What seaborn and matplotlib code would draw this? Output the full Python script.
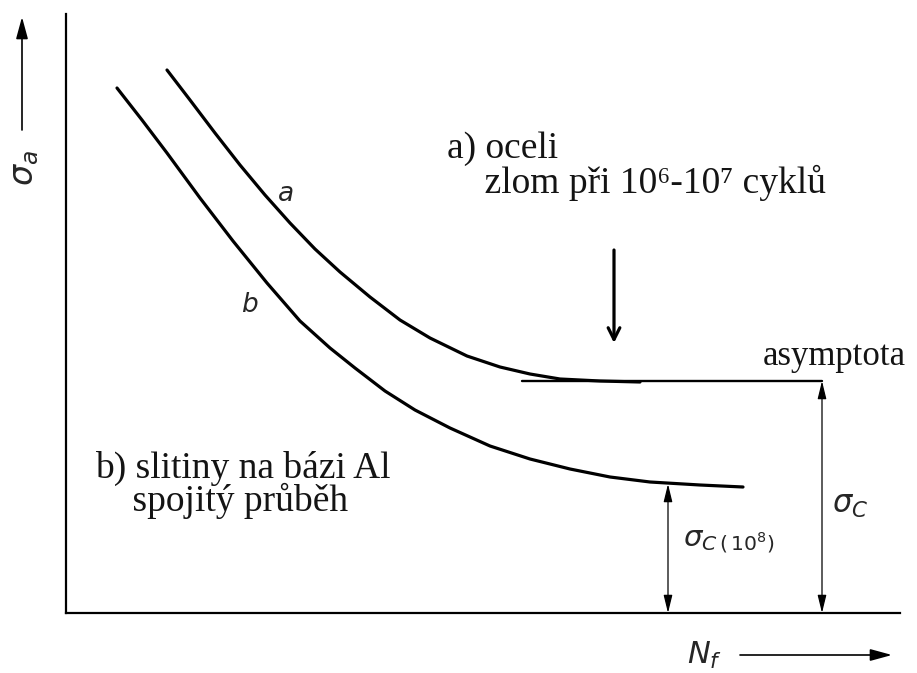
import matplotlib
matplotlib.use("Agg")
import matplotlib.pyplot as plt
import seaborn as sns
import pandas as pd

# Schematic Woehler (S-N) curves, arbitrary units: x ~ log N_f, y ~ stress amplitude
steel_n = [101, 124, 149, 174, 199, 224, 249, 274, 304, 334, 364, 401, 434,
           464, 494, 534, 574]
steel_s = [543, 513, 480, 448, 418, 390, 364, 341, 316, 293, 275, 257, 246,
           239, 234, 232, 231]

alloy_n = [51, 76, 101, 134, 167, 201, 234, 264, 289, 319, 349, 384, 424,
           464, 504, 544, 584, 634, 677]
alloy_s = [525, 493, 460, 415, 372, 330, 292, 265, 245, 222, 203, 185, 167,
           154, 144, 136, 131, 128, 126]

# horizontal asymptote of the steel curve (fatigue limit)
asym_n = [456, 756]
asym_s = [232, 232]

# endurance strength of the Al alloy at 10^8 cycles
alloy_limit_n = 602
alloy_limit_s = 129

x_max, y_max = 834, 599

sns.set_theme(style="white")
plt.rcParams["font.family"] = ["Liberation Serif", "DejaVu Serif"]
plt.rcParams["mathtext.fontset"] = "dejavusans"

fig = plt.figure(figsize=(9.17, 6.73), dpi=100)
ax = fig.add_axes([66 / 917, 60 / 673, 834 / 917, 599 / 673])

curves = pd.concat([
    pd.DataFrame({"N": steel_n, "S": steel_s, "mat": "a"}),
    pd.DataFrame({"N": alloy_n, "S": alloy_s, "mat": "b"}),
])
sns.lineplot(data=curves, x="N", y="S", units="mat", estimator=None, sort=False,
             color="black", linewidth=2.3, ax=ax, legend=False,
             solid_capstyle="round", solid_joinstyle="round")
sns.lineplot(x=asym_n, y=asym_s, color="black", linewidth=1.7, ax=ax,
             estimator=None, sort=False)

ax.set_xlim(0, x_max)
ax.set_ylim(0, y_max)
ax.set_xticks([])
ax.set_yticks([])
ax.set_xlabel("")
ax.set_ylabel("")
for side in ("top", "right"):
    ax.spines[side].set_visible(False)
for side in ("left", "bottom"):
    ax.spines[side].set_color("black")
    ax.spines[side].set_linewidth(1.6)

thin = dict(arrowstyle="<|-|>,head_length=0.9,head_width=0.22", color="black",
            lw=0.9, shrinkA=0, shrinkB=0)
# sigma_C dimension arrow
ax.annotate("", xy=(asym_n[1], 0), xytext=(asym_n[1], asym_s[1]),
            arrowprops=thin, annotation_clip=False)
# sigma_C(10^8) dimension arrow
ax.annotate("", xy=(alloy_limit_n, 0), xytext=(alloy_limit_n, alloy_limit_s),
            arrowprops=thin, annotation_clip=False)

# arrow pointing to the knee of the steel curve
ax.annotate("", xy=(548, 270), xytext=(548, 363),
            arrowprops=dict(arrowstyle="->,head_length=0.7,head_width=0.35",
                            color="black", lw=2.3, shrinkA=0, shrinkB=0))

# axis direction arrows
axis_arrow = dict(arrowstyle="-|>,head_length=1.1,head_width=0.3", color="black",
                  lw=1.2, shrinkA=0, shrinkB=0)
ax.annotate("", xy=(-44, 596), xytext=(-44, 483), arrowprops=axis_arrow,
            annotation_clip=False)
ax.annotate("", xy=(826, -42), xytext=(674, -42), arrowprops=axis_arrow,
            annotation_clip=False)

# axis symbols
ax.text(-40, 445, r"$\sigma_a$", rotation=90, fontsize=24, ha="center",
        va="center", clip_on=False)
ax.text(639, -42, r"$N_f$", fontsize=22, ha="center", va="center", clip_on=False)

# curve letters
ax.text(219, 418, r"$a$", fontsize=19, ha="center", va="center")
ax.text(184, 308, r"$b$", fontsize=19, ha="center", va="center")

# dimension labels
ax.text(784, 108, r"$\sigma_C$", fontsize=22, ha="center", va="center")
ax.text(617, 70, r"$\sigma_{C\,(\,10^8)}$", fontsize=21, ha="left", va="center")

# descriptive notes
note = dict(fontsize=27, color="#141414", ha="left", va="top")
ax.text(381, 482, "a) oceli\n    zlom při 10\u2076-10\u2077 cyklů",
        linespacing=0.98, **note)
ax.text(697, 273, "asymptota", clip_on=False, **{**note, "fontsize": 25})
ax.text(29, 162, "b) slitiny na bázi Al\n    spojitý průběh",
        linespacing=0.88, **note)

fig.savefig("out.png", dpi=100, facecolor="white")
